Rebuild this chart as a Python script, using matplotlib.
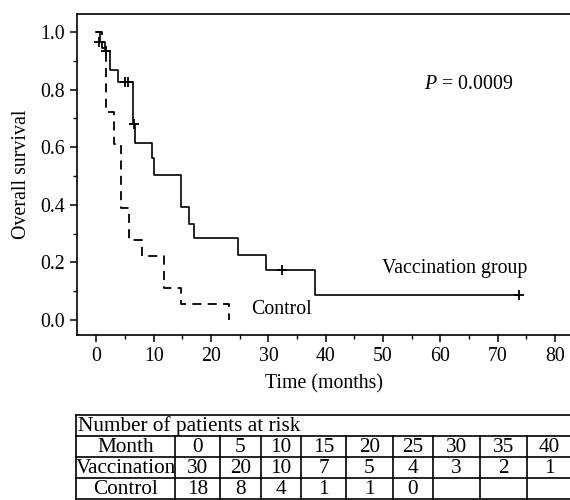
import matplotlib
matplotlib.use("Agg")
import matplotlib.pyplot as plt
from matplotlib.ticker import MultipleLocator

plt.rcParams['font.family'] = ['Liberation Serif', 'DejaVu Serif']
plt.rcParams['mathtext.fontset'] = 'custom'
plt.rcParams['mathtext.rm'] = 'Liberation Serif'
plt.rcParams['mathtext.it'] = 'Liberation Serif:italic'

# ---- data ----
vacc_time = [0, 0.7, 1.5, 2.3, 3.7, 6.3, 6.8, 9.7, 10.1, 14.7, 16.2, 17.1, 24.7, 29.6, 38.1, 73.7]
vacc_surv = [1.0, 0.967, 0.933, 0.867, 0.825, 0.68, 0.616, 0.564, 0.503, 0.393, 0.335, 0.284, 0.226, 0.174, 0.087, 0.087]
vacc_cens_time = [0.5, 1.7, 4.9, 5.5, 6.5, 32.4, 73.7]
vacc_cens_surv = [0.967, 0.933, 0.825, 0.825, 0.68, 0.174, 0.087]

ctrl_time = [0, 1.0, 1.6, 3.1, 4.3, 5.7, 8.0, 11.8, 14.7, 23.2]
ctrl_surv = [1.0, 0.944, 0.722, 0.611, 0.389, 0.278, 0.222, 0.111, 0.056, 0.0]

table_title = "Number of patients at risk"
months = ["0", "5", "10", "15", "20", "25", "30", "35", "40"]
vacc_risk = ["30", "20", "10", "7", "5", "4", "3", "2", "1"]
ctrl_risk = ["18", "8", "4", "1", "1", "0", "", "", ""]

W, H = 570, 500
fig = plt.figure(figsize=(W / 100, H / 100), dpi=100)

FS = 14.3
TFS = 15.3

# main axes
l, r, t, b = 77, 571, 14, 335
ax = fig.add_axes([l / W, 1 - b / H, (r - l) / W, (b - t) / H])
ax.step(vacc_time, vacc_surv, where='post', color='black', lw=1.2)
ax.step(ctrl_time, ctrl_surv, where='post', color='black', lw=1.3, linestyle=(0, (5, 3.5)))
ax.plot(vacc_cens_time, vacc_cens_surv, linestyle='none', marker='+', color='black', ms=7, mew=1.3)

ax.set_xlim(-3.4, 82.8)
ax.set_ylim(-0.052, 1.0625)
ax.spines['right'].set_visible(False)
for s in ['left', 'bottom', 'top']:
    ax.spines[s].set_linewidth(1.2)
ax.xaxis.set_major_locator(MultipleLocator(10))
ax.xaxis.set_minor_locator(MultipleLocator(5))
ax.yaxis.set_major_locator(MultipleLocator(0.2))
ax.yaxis.set_minor_locator(MultipleLocator(0.1))
ax.set_yticklabels([f"{v:.1f}" for v in ax.get_yticks()])
ax.tick_params(which='major', direction='out', length=5, width=1.1, labelsize=FS)
ax.tick_params(which='minor', direction='out', length=3, width=1.0)
ax.set_xlabel("Time (months)", fontsize=FS, labelpad=6)
ax.set_ylabel("Overall survival", fontsize=FS, labelpad=7)

ax.text(57.1, 0.816, r"$P$ = 0.0009", fontsize=FS, va='center', ha='left')
ax.text(49.8, 0.18, "Vaccination group", fontsize=FS, va='center', ha='left')
ax.text(26.9, 0.035, "Control", fontsize=FS, va='center', ha='left')

# table
tax = fig.add_axes([0, 0, 1, 1])
tax.set_xlim(0, W)
tax.set_ylim(H, 0)
tax.axis('off')
col_edges = [76, 175, 220, 261, 301, 346, 393, 433, 480, 527, 571]
row_edges = [415, 436, 457, 478, 499]
lw = 1.2
for y in row_edges:
    tax.plot([col_edges[0], W], [y, y], color='black', lw=lw)
tax.plot([col_edges[0], col_edges[0]], [row_edges[0], row_edges[-1]], color='black', lw=lw)
for x in col_edges[1:-1]:
    tax.plot([x, x], [row_edges[1], row_edges[-1]], color='black', lw=lw)
tax.text(col_edges[0] + 2, (row_edges[0] + row_edges[1]) / 2 + 1, table_title,
         fontsize=TFS, ha='left', va='center')
rows = [["Month"] + months, ["Vaccination"] + vacc_risk, ["Control"] + ctrl_risk]
for ri, row in enumerate(rows):
    yc = (row_edges[ri + 1] + row_edges[ri + 2]) / 2 + 1
    for ci, txt in enumerate(row):
        xc = (col_edges[ci] + col_edges[ci + 1]) / 2
        tax.text(xc, yc, txt, fontsize=TFS, ha='center', va='center')

fig.savefig("out.png", dpi=100)
